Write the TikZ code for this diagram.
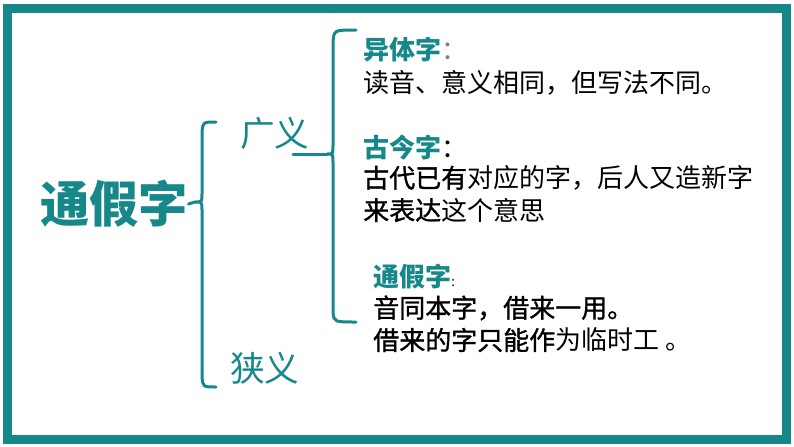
\documentclass[tikz,border=0pt]{standalone}
\usepackage{fontspec}
\setmainfont{Noto Sans CJK SC}
\newfontfamily\cjkmed{Noto Sans CJK SC}[FakeBold=1.2]
\newcommand{\med}[1]{{\cjkmed #1}}
\definecolor{tealc}{RGB}{22,136,138}
\tikzset{>=stealth}

\begin{document}
\begin{tikzpicture}[x=0.75pt,y=-0.75pt,
  brace/.style={draw=tealc, line width=2.25pt, line cap=round},
  head/.style={anchor=west, inner sep=0, text=tealc, font=\fontsize{19.5}{24}\selectfont\bfseries},
  body/.style={anchor=west, inner sep=0, font=\fontsize{19.5}{24}\selectfont},
  branch/.style={anchor=west, inner sep=0, text=tealc, font=\fontsize{26}{30}\selectfont}]
\useasboundingbox (0,0) rectangle (794,447);
\draw[tealc, line width=6.75pt] (7.5,8.5) rectangle (786,439.5);
\node[anchor=west, inner sep=0, text=tealc, font=\fontsize{37}{40}\selectfont\bfseries] (title) at (40,204) {通假字};
\node[branch] (guangyi) at (240,133) {广义};
\node[branch] (xiayi) at (230,368) {狭义};
\coordinate (c1) at (195,202);
\coordinate (s2) at (293,154);
\coordinate (c2) at (327,154);
\draw[brace] (216,122) .. controls (203,122) .. (202,132) -- (202,194) .. controls (202,202) .. (c1) .. controls (202,202) .. (202,210) -- (202,377) .. controls (203,387) .. (216,387);
\draw[brace] (356,30) .. controls (334,30) .. (333,42) -- (333,146) .. controls (333,154) .. (c2) .. controls (333,154) .. (333,162) -- (333,312) .. controls (334,322) .. (356,322);
\draw[brace] (title.east) -- (c1);
\draw[brace] (s2) -- (c2);
\node[head] (yiti) at (363,50) {异体字\textcolor{gray}{\mdseries ：}};
\node[body] (yitiA) at (363,83) {读音、意义相同，但写法不同。};
\node[head] (gujin) at (363,148) {古今字\textcolor{black}{\mdseries ：}};
\node[body] (gujinA) at (363,178) {\med{古代已有}对应的字，后人又造新字};
\node[body] (gujinB) at (363,210) {\med{来表达}这个意思};
\node[head] (tongjia) at (373,277) {通假字\textcolor{black}{\mdseries\fontsize{10}{12}\selectfont :}};
\node[body] (tongjiaA) at (373,308) {\med{音同本字，借来一用。}};
\node[body] (tongjiaB) at (373,340) {\med{借来的字只能作}为临时工 。};
\end{tikzpicture}
\end{document}
